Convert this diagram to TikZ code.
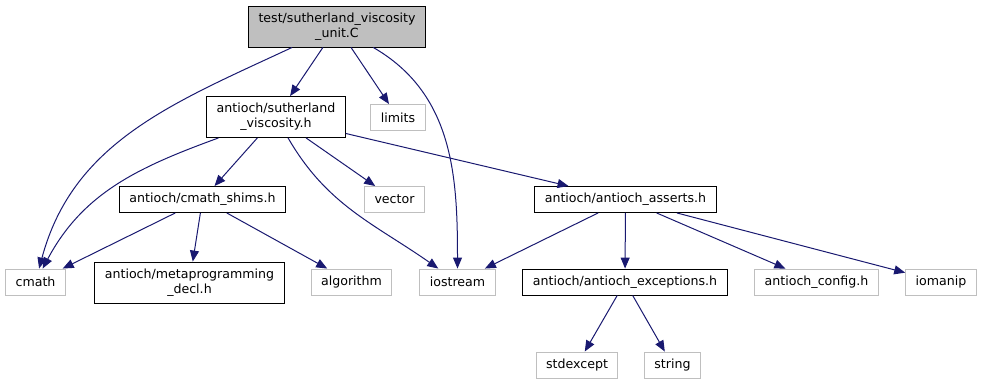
\documentclass[tikz,border=0pt]{standalone}
\usepackage{fontspec}
\setmainfont{DejaVu Sans}
\usetikzlibrary{arrows.meta}
\definecolor{edgeblue}{HTML}{191970}
\definecolor{sysgray}{HTML}{BFBFBF}
\tikzset{
  file/.style={draw=black, line width=0.9pt, fill=white, inner xsep=10pt,
    inner ysep=0pt, minimum height=26pt, align=center,
    font=\fontsize{12.6}{15}\selectfont},
  mainfile/.style={file, fill=sysgray, minimum height=41pt},
  twoline/.style={file, minimum height=41pt},
  sysfile/.style={file, draw=sysgray},
}
\begin{document}
\begin{tikzpicture}[x=1pt,y=-1pt]
      \useasboundingbox (0,0) rectangle (983,384);
      \draw
        (337,26.5) node[mainfile] (0){test/sutherland\_viscosity\\\_unit.C}
        (276,117) node[twoline] (1){antioch/sutherland\\\_viscosity.h}
        (398,117.5) node[sysfile] (2){limits}
        (202.5,199.5) node[file] (3){antioch/cmath\_shims.h}
        (394.5,199.5) node[sysfile] (4){vector}
        (625.5,199.5) node[file] (5){antioch/antioch\_asserts.h}
        (35.5,282) node[sysfile] (6){cmath}
        (189.5,282.5) node[twoline] (7){antioch/metaprogramming\\\_decl.h}
        (351.5,282) node[sysfile] (8){algorithm}
        (457.5,282) node[sysfile] (9){iostream}
        (625,282) node[file] (10){antioch/antioch\_exceptions.h}
        (816.5,282) node[sysfile] (11){antioch\_config.h}
        (941,282) node[sysfile] (12){iomanip}
        (577,365) node[sysfile] (13){stdexcept}
        (672.5,365) node[sysfile] (14){string};
      \begin{scope}[draw=edgeblue, line width=1pt,
          -{Triangle[length=11pt, width=9pt, fill=edgeblue]}]
        \draw (0) to[out=-155, in=75] (6);
        \draw (0) to (1);
        \draw (0) to (2);
        \draw (0) to[out=-30, in=90] (9);
        \draw (1) to[out=-160, in=62] (6);
        \draw (1) to (3);
        \draw (1) to[out=-60, in=145] (9);
        \draw (1) to (4);
        \draw (1) to (5);
        \draw (3) to (6);
        \draw (3) to (7);
        \draw (3) to (8);
        \draw (5) to (9);
        \draw (5) to (10);
        \draw (5) to (11);
        \draw (5) to (12);
        \draw (10) to (13);
        \draw (10) to (14);
      \end{scope}
    \end{tikzpicture}
\end{document}
